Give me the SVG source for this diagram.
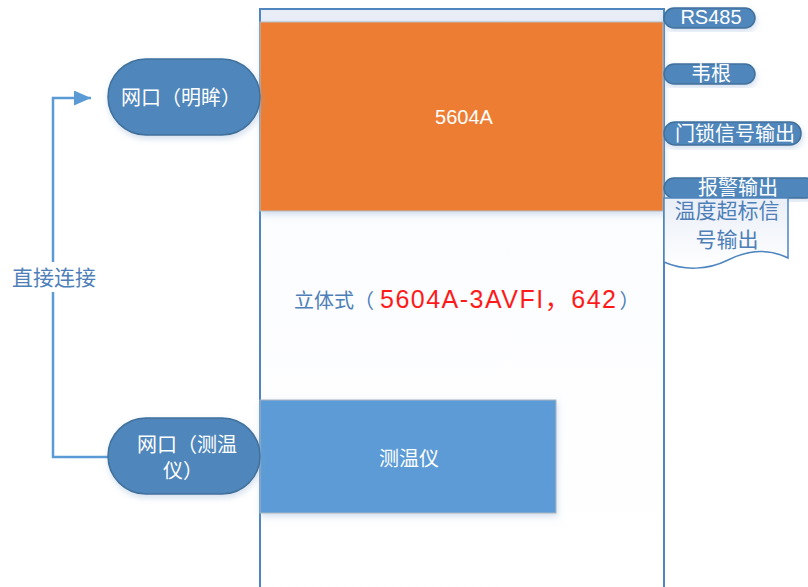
<svg xmlns="http://www.w3.org/2000/svg" width="808" height="587" viewBox="0 0 808 587">
<defs>
<style>
text{font-family:"Liberation Sans","Noto Sans CJK SC",sans-serif;}
.pill{fill:#4f86bb;stroke:#41719c;stroke-width:1.5;}
.wt{fill:#ffffff;font-size:20px;text-anchor:middle;}
.bt{fill:#4e7fb8;}
.conn{fill:none;stroke:#5b9bd5;stroke-width:2.5;}
</style>
<linearGradient id="cg" x1="0" y1="0" x2="0" y2="1">
<stop offset="0" stop-color="#e7ecf6"/>
<stop offset="0.25" stop-color="#fbfcfe"/>
<stop offset="1" stop-color="#ffffff"/>
</linearGradient>
<linearGradient id="dg" x1="0" y1="0" x2="0" y2="1">
<stop offset="0" stop-color="#e9eef7"/>
<stop offset="1" stop-color="#ffffff"/>
</linearGradient>
<filter id="sh" x="-10%" y="-10%" width="125%" height="130%">
<feDropShadow dx="1" dy="3" stdDeviation="3" flood-color="#7fa3cc" flood-opacity="0.35"/>
</filter>
<marker id="ah" markerWidth="17" markerHeight="15" refX="17" refY="7.5" orient="auto" markerUnits="userSpaceOnUse">
<path d="M0,0 L17,7.5 L0,15 Z" fill="#5b9bd5"/>
</marker>
</defs>
<rect width="808" height="587" fill="#ffffff"/>

<g id="container">
<rect x="260" y="9" width="404" height="600" fill="url(#cg)" stroke="#4f86c0" stroke-width="2"/>
<text x="294" y="308" font-size="20" class="bt">立体式（<tspan fill="#ff1a1a" font-size="25" dx="6" letter-spacing="1.5">5604A-3AVFI，642</tspan><tspan dx="2">）</tspan></text>
</g>

<g id="n5604A">
<rect x="260" y="22" width="403" height="189" fill="#ed7d31" stroke="#b4bcc4" stroke-width="1" filter="url(#sh)"/>
<text x="464" y="124" class="wt" font-size="18">5604A</text>
</g>

<g id="thermo">
<rect x="260" y="400" width="296" height="113" fill="#5b9bd5" stroke="#aab4bf" stroke-width="1" filter="url(#sh)"/>
<text x="409" y="466" class="wt" font-size="21">测温仪</text>
</g>

<g id="connectors">
<polyline class="conn" points="109,457 53,457 53,98 91,98" marker-end="url(#ah)"/>
<rect x="8" y="262" width="94" height="30" fill="#ffffff"/>
<text x="54" y="285" font-size="21" class="bt" text-anchor="middle">直接连接</text>
</g>

<g id="port1">
<rect x="108" y="59" width="152" height="76" rx="38" class="pill" filter="url(#sh)"/>
<text x="181" y="105" class="wt">网口（明眸）</text>
</g>

<g id="port2">
<rect x="108" y="418" width="152" height="76" rx="38" class="pill" filter="url(#sh)"/>
<text x="187" y="452" class="wt">网口（测温</text>
<text x="183" y="478" class="wt">仪）</text>
</g>

<g id="rs485">
<rect x="664" y="8" width="91" height="20" rx="10" class="pill" filter="url(#sh)"/>
<text x="711" y="24" class="wt" font-size="18">RS485</text>
</g>

<g id="wiegand">
<rect x="664" y="64" width="91" height="20" rx="10" class="pill" filter="url(#sh)"/>
<text x="711" y="81" class="wt" font-size="20">韦根</text>
</g>

<g id="doorlock">
<rect x="664" y="122" width="137" height="23" rx="11" class="pill" filter="url(#sh)"/>
<text x="735" y="141" class="wt" font-size="20">门锁信号输出</text>
</g>

<g id="alarm">
<rect x="664" y="178" width="152" height="20" rx="10" class="pill" filter="url(#sh)"/>
<text x="738" y="195" class="wt" font-size="20">报警输出</text>
</g>

<g id="overtemp">
<path d="M664,198 H788 V258 C768,248 748,250 728,260 C708,270 684,271 664,262 Z" fill="url(#dg)" stroke="#4f86c0" stroke-width="1.5"/>
<text x="727" y="218" font-size="21" class="bt" text-anchor="middle">温度超标信</text>
<text x="727" y="247" font-size="21" class="bt" text-anchor="middle">号输出</text>
</g>
</svg>
